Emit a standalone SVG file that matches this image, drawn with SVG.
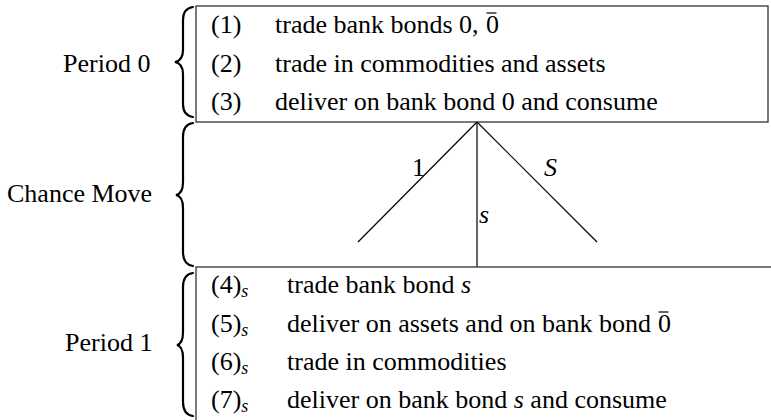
<svg xmlns="http://www.w3.org/2000/svg" width="771" height="420" viewBox="0 0 771 420" font-family="'Liberation Serif', 'DejaVu Serif', serif">
<style>
text{font-family:'Liberation Serif','DejaVu Serif',serif;font-size:26px;fill:#000}
.it{font-style:italic}
.sub{font-style:italic;font-size:18px}
.box{fill:none;stroke:#333;stroke-width:1.3}
.brace{fill:none;stroke:#000;stroke-width:2.2;stroke-linecap:round}
.edge{stroke:#000;stroke-width:1.2;fill:none}
.bar{stroke:#000;stroke-width:1.2}
</style>
<rect width="771" height="420" fill="#fff"/>
<g id="period0">
<text x="63" y="72">Period 0</text>
<path class="brace" d="M193,7 C186,8 183,13 183,20 L183,50 C183,57 180,61 175,62 C180,63 183,67 183,74 L183,104 C183,111 186,116 193,117"/>
<rect class="box" x="196" y="6" width="572" height="116"/>
<text x="211" y="33">(1)</text><text x="275" y="33">trade bank bonds 0,</text>
<text x="486" y="33">0</text><line class="bar" x1="486.5" y1="13" x2="496.5" y2="13"/>
<text x="211" y="72">(2)</text><text x="275" y="72">trade in commodities and assets</text>
<text x="211" y="110">(3)</text><text x="275" y="110">deliver on bank bond 0 and consume</text>
</g>
<g id="chance">
<text x="7" y="202">Chance Move</text>
<path class="brace" d="M193,123 C186,124 183,129 183,137 L183,182 C183,190 181,194 176,195 C181,196 183,200 183,208 L183,252 C183,260 186,265 193,266"/>
</g>
<g id="connectors">
<line class="edge" x1="477" y1="122" x2="358" y2="242"/>
<line class="edge" x1="477" y1="122" x2="597" y2="242"/>
<line class="edge" x1="477" y1="122" x2="477" y2="267"/>
<text x="412" y="176">1</text>
<text class="it" x="544" y="176">S</text>
<text class="it" x="479" y="223">s</text>
</g>
<g id="period1">
<text x="65" y="351">Period 1</text>
<path class="brace" d="M193,273 C186,274 183,279 183,287 L183,332 C183,340 181,344 177,345 C181,346 183,350 183,358 L183,402 C183,410 186,415 193,416"/>
<rect class="box" x="196" y="267" width="600" height="200"/>
<text x="211" y="293">(4)<tspan class="sub" dy="4">s</tspan></text><text x="287" y="293">trade bank bond <tspan class="it">s</tspan></text>
<text x="211" y="332">(5)<tspan class="sub" dy="4">s</tspan></text><text x="287" y="332">deliver on assets and on bank bond</text>
<text x="658" y="332">0</text><line class="bar" x1="658.5" y1="312" x2="668.5" y2="312"/>
<text x="211" y="370">(6)<tspan class="sub" dy="4">s</tspan></text><text x="287" y="370">trade in commodities</text>
<text x="211" y="408">(7)<tspan class="sub" dy="4">s</tspan></text><text x="287" y="408">deliver on bank bond <tspan class="it">s</tspan> and consume</text>
</g>
</svg>
